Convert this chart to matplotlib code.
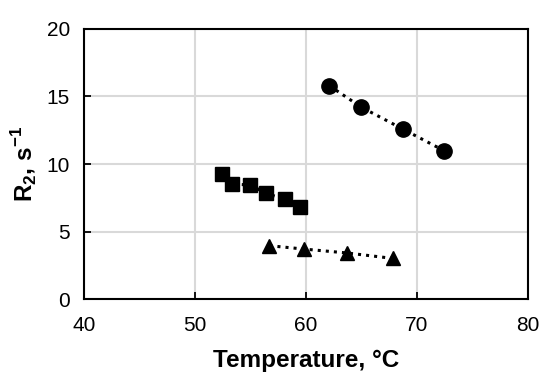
import matplotlib.pyplot as plt

plt.rcParams['font.family'] = ['Liberation Sans', 'DejaVu Sans']
plt.rcParams['mathtext.fontset'] = 'custom'
plt.rcParams['mathtext.rm'] = 'Liberation Sans'
plt.rcParams['mathtext.bf'] = 'Liberation Sans:bold'

# data
temp_circle = [62.1, 65.0, 68.7, 72.4]
r2_circle = [15.8, 14.2, 12.6, 11.0]

temp_square = [52.4, 53.3, 55.0, 56.4, 58.1, 59.5]
r2_square = [9.26, 8.52, 8.44, 7.83, 7.38, 6.84]

temp_triangle = [56.7, 59.8, 63.7, 67.8]
r2_triangle = [3.95, 3.70, 3.41, 3.01]

x_ticks = [40, 50, 60, 70, 80]
y_ticks = [0, 5, 10, 15, 20]

fig = plt.figure(figsize=(5.5, 3.81), dpi=100)
ax = fig.add_axes([0.1527, 0.2152, 0.8073, 0.7087])

ax.plot(temp_circle, r2_circle, ':', color='black', lw=2.2,
        marker='o', markersize=11, zorder=3)
ax.plot(temp_square, r2_square, ':', color='black', lw=2.2,
        marker='s', markersize=9.5, zorder=3)
ax.plot(temp_triangle, r2_triangle, ':', color='black', lw=2.2,
        marker='^', markersize=9.5, zorder=3)

ax.set_xlim(40, 80)
ax.set_ylim(0, 20)
ax.set_xticks(x_ticks)
ax.set_yticks(y_ticks)
ax.grid(True, color='#d9d9d9', lw=1.5)
ax.set_axisbelow(True)
for s in ax.spines.values():
    s.set_linewidth(1.5)
    s.set_color('black')
ax.tick_params(direction='in', length=5, width=1.3, labelsize=15)
ax.tick_params(axis='x', pad=12)
ax.tick_params(axis='y', pad=10)

ax.set_xlabel('Temperature, °C', fontsize=17.5, fontweight='bold', labelpad=10)
ax.set_ylabel(r'R$_{\mathbf{2}}$, s$^{\mathbf{-1}}$', fontsize=17.5,
              fontweight='bold', labelpad=5)

fig.savefig('out.png', dpi=100)
